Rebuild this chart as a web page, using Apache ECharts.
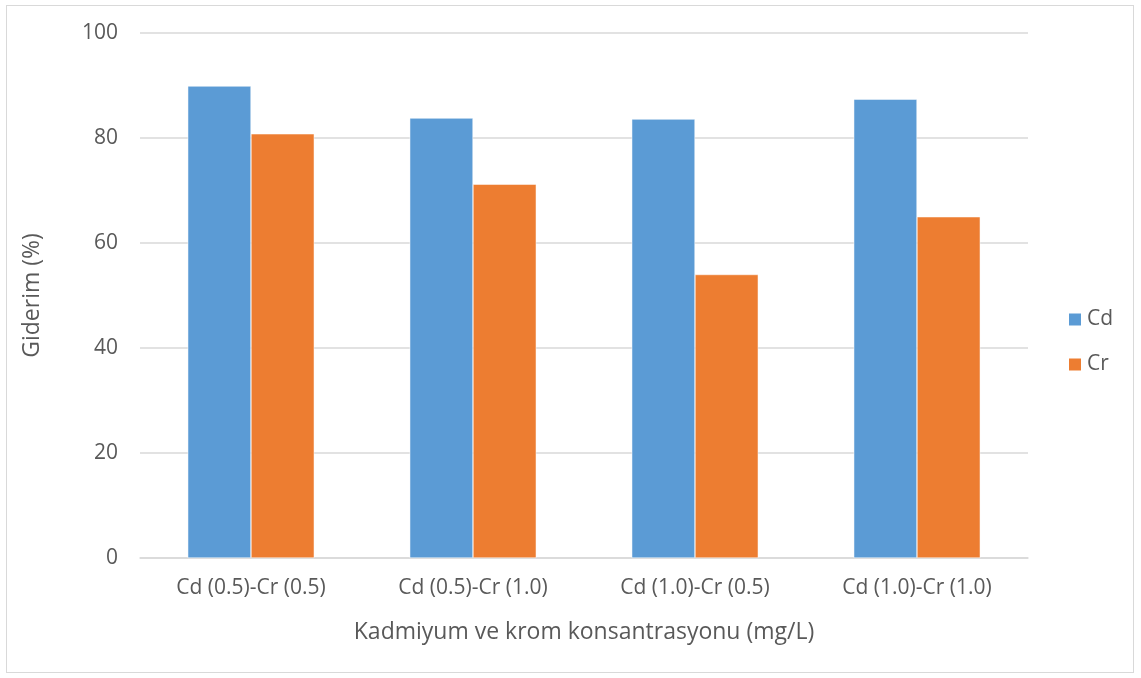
<!DOCTYPE html>
<html>
<head>
<meta charset="utf-8">
<script src="https://cdn.jsdelivr.net/npm/echarts@6/dist/echarts.min.js"></script>
<style>
  html, body { margin: 0; padding: 0; background: #fff; }
  #frame { position: absolute; left: 6px; top: 5px; width: 1126px; height: 666px; border: 1px solid #d9d9d9; }
  #chart { position: absolute; left: 0; top: 0; width: 1141px; height: 678px; }
</style>
</head>
<body>
<div id="frame"></div>
<div id="chart"></div>
<script>
const categories = ['Cd (0.5)-Cr (0.5)', 'Cd (0.5)-Cr (1.0)', 'Cd (1.0)-Cr (0.5)', 'Cd (1.0)-Cr (1.0)'];
const cdValues = [89.9, 83.8, 83.6, 87.4];
const crValues = [80.8, 71.2, 54.0, 65.0];

const font = '"Open Sans", sans-serif';
const textColor = '#595959';

const myChart = echarts.init(document.getElementById('chart'));
const option = {
  animation: false,
  color: ['#5b9bd5', '#ed7d31'],
  textStyle: { fontFamily: font },
  legend: {
    orient: 'vertical',
    left: 1062,
    top: 304,
    itemWidth: 14,
    itemHeight: 14,
    itemGap: 24,
    icon: 'rect',
    textStyle: { fontFamily: font, fontSize: 21, color: textColor },
    data: ['Cd', 'Cr']
  },
  grid: {
    left: 140,
    right: 113,
    top: 33,
    bottom: 120
  },
  xAxis: {
    type: 'category',
    data: categories,
    name: 'Kadmiyum ve krom konsantrasyonu (mg/L)',
    nameLocation: 'middle',
    nameGap: 63,
    nameTextStyle: { fontFamily: font, fontSize: 23, color: textColor },
    axisLine: { lineStyle: { color: '#d9d9d9', width: 1.5 } },
    axisTick: { show: false },
    axisLabel: { fontFamily: font, fontSize: 21, color: textColor, margin: 20 }
  },
  yAxis: {
    type: 'value',
    min: 0,
    max: 100,
    interval: 20,
    name: 'Giderim (%)',
    nameLocation: 'middle',
    nameGap: 96,
    nameTextStyle: { fontFamily: font, fontSize: 23, color: textColor },
    axisLine: { show: false },
    axisTick: { show: false },
    axisLabel: { fontFamily: font, fontSize: 21, color: textColor, margin: 22 },
    splitLine: { lineStyle: { color: '#d9d9d9', width: 1.5 } }
  },
  series: [
    {
      name: 'Cd',
      type: 'bar',
      data: cdValues,
      barGap: '0%',
      barCategoryGap: '43%',
      itemStyle: { borderColor: '#fff', borderWidth: 0.5 }
    },
    {
      name: 'Cr',
      type: 'bar',
      data: crValues,
      itemStyle: { borderColor: '#fff', borderWidth: 0.5 }
    }
  ]
};
myChart.setOption(option);
</script>
</body>
</html>
